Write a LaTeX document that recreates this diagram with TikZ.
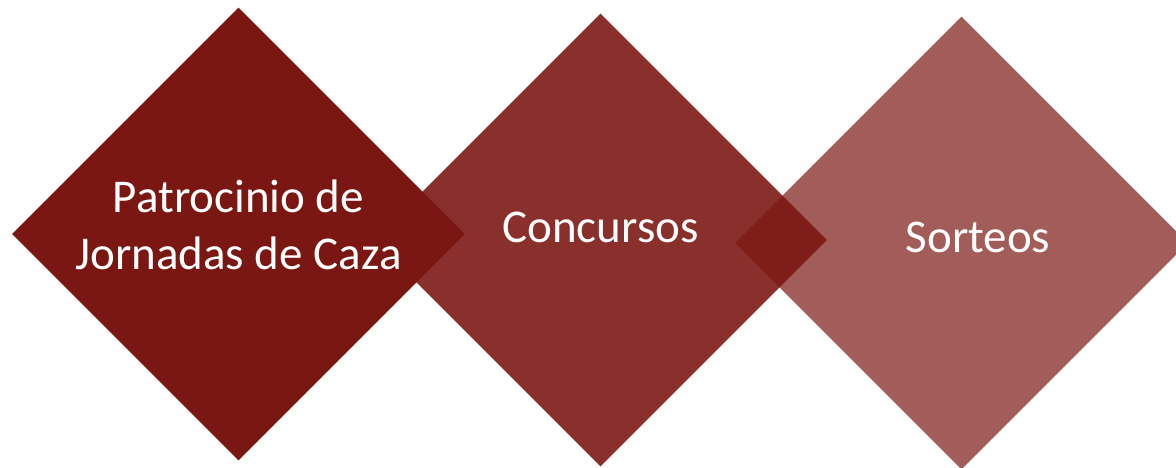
\documentclass[tikz,border=0pt]{standalone}
\usepackage{fontspec}
\setmainfont{Carlito}
\usetikzlibrary{shapes.geometric}

\definecolor{cazared}{RGB}{123,23,18}

\tikzset{
  rhomb/.style={diamond, aspect=1, fill=cazared, draw=none, minimum width=453pt, minimum height=453pt, inner sep=0pt},
  lbl/.style={text=white, font=\fontsize{47}{57.5}\selectfont, align=center, inner sep=0pt}
}

\begin{document}
\begin{tikzpicture}[x=1pt, y=-1pt]
    \useasboundingbox (0,0) rectangle (1176,468);
    \clip (0,0) rectangle (1176,468);

    % Middle and right diamonds (see-through)
    \node[rhomb, fill opacity=0.89] (d2) at (600.5, 240) {};
    \node[rhomb, fill opacity=0.70] (d3) at (961.5, 243) {};

    % Left diamond on top
    \node[rhomb] (d1) at (238.5, 234) {};

    % Labels
    \node[lbl] (t1) at ([yshift=9pt]d1.center) {Patrocinio de\\Jornadas de Caza};
    \node[lbl, anchor=base] (t2) at ([yshift=-2pt]d2.center) {Concursos};
    \node[lbl, anchor=base] (t3) at ([xshift=16.5pt, yshift=-9pt]d3.center) {Sorteos};
  \end{tikzpicture}
\end{document}
